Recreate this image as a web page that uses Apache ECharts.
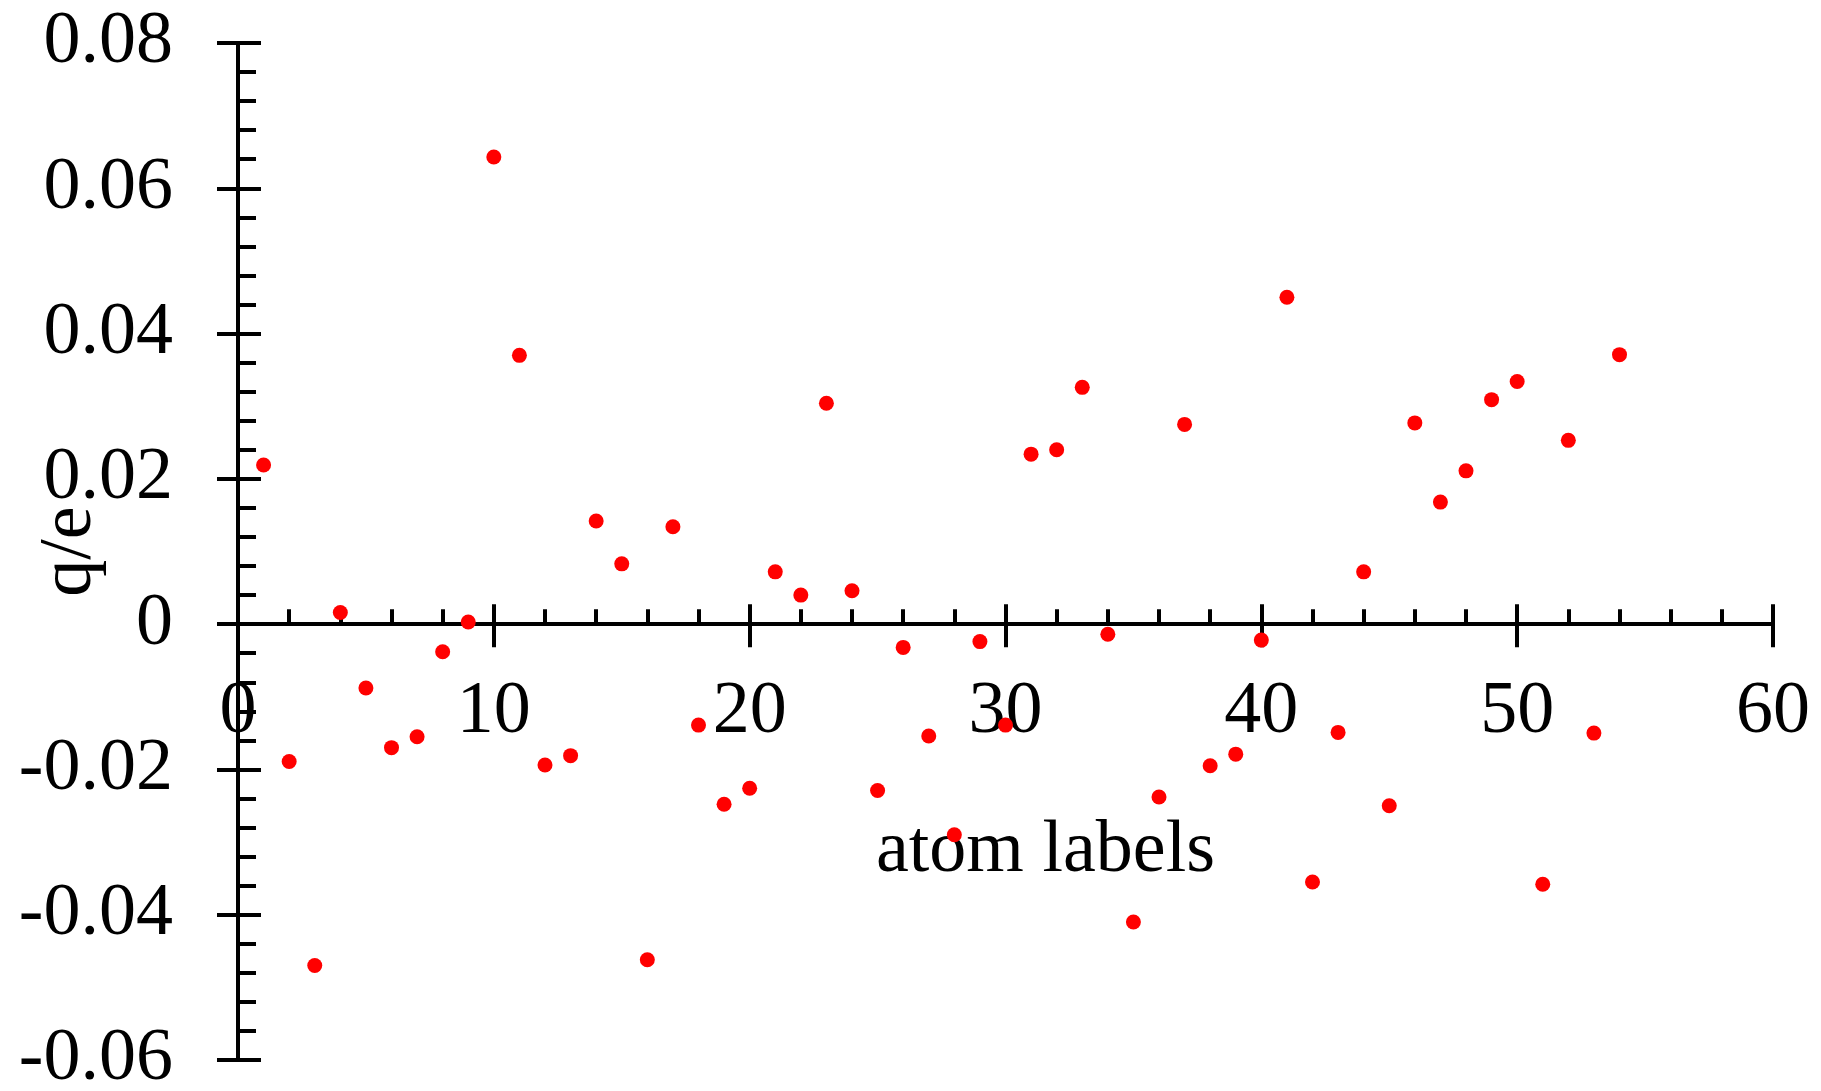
<!DOCTYPE html>
<html>
<head>
<meta charset="utf-8">
<title>q/e vs atom labels</title>
<script src="https://cdn.jsdelivr.net/npm/echarts@6/dist/echarts.min.js"></script>
<style>
  html, body { margin: 0; padding: 0; background: #fff; }
  #chart { width: 1821px; height: 1091px; }
</style>
</head>
<body>
<div id="chart"></div>
<script>
// atom index (x) and partial charge (y)
const atomLabels = [
  1, 2, 3, 4, 5, 6, 7, 8, 9, 10,
  11, 12, 13, 14, 15, 16, 17, 18, 19, 20,
  21, 22, 23, 24, 25, 26, 27, 28, 29, 30,
  31, 32, 33, 34, 35, 36, 37, 38, 39, 40,
  41, 42, 43, 44, 45, 46, 47, 48, 49, 50,
  51, 52, 53, 54
]
const charges = [
  0.0219, -0.0189, -0.0470, 0.0016, -0.0088, -0.0170, -0.0155, -0.0038, 0.0003, 0.0643,
  0.0370, -0.0194, -0.0181, 0.0142, 0.0083, -0.0462, 0.0134, -0.0139, -0.0248, -0.0226,
  0.0072, 0.0040, 0.0304, 0.0046, -0.0229, -0.0032, -0.0154, -0.0290, -0.0024, -0.0139,
  0.0234, 0.0240, 0.0326, -0.0014, -0.0410, -0.0238, 0.0275, -0.0195, -0.0179, -0.0022,
  0.0450, -0.0355, -0.0149, 0.0072, -0.0250, 0.0277, 0.0168, 0.0211, 0.0309, 0.0334,
  -0.0358, 0.0253, -0.0150, 0.0371
]

const font = 'Liberation Serif'
const fontSize = 74
const black = '#000'

const gridTop = 43
const gridBottom = 31
const yMin = -0.06
const yMax = 0.08

let chart = echarts.init(document.getElementById('chart'))

const points = atomLabels.map((a, i) => [a, charges[i]])

// v6 keeps labels of an onZero axis at the grid edge, so the label axis
// gets shifted up to the zero line by hand
const plotH = 1091 - gridTop - gridBottom
const zeroFromBottom = plotH * (0 - yMin) / (yMax - yMin)

const lineStyle = { color: black, width: 4 }

chart.setOption({
  animation: false,
  grid: {
    left: 238, right: 48, top: gridTop, bottom: gridBottom,
    containLabel: false,
    outerBoundsMode: 'none'
  },
  xAxis: [
    {
      // tick labels and axis name only
      type: 'value', position: 'bottom', min: 0, max: 60, interval: 10,
      offset: -zeroFromBottom,
      axisLine: { show: false, onZero: false },
      axisTick: { show: false },
      minorTick: { show: false },
      splitLine: { show: false },
      axisLabel: { color: black, fontFamily: font, fontSize, margin: 51 },
      name: 'atom labels',
      nameLocation: 'middle',
      nameGap: 190,
      nameMoveOverlap: false,
      nameTextStyle: { color: black, fontFamily: font, fontSize, padding: [0, 0, 0, 80] }
    },
    {
      // axis line + the part of the major ticks below it
      type: 'value', position: 'bottom', min: 0, max: 60, interval: 10,
      axisLine: { onZero: true, onZeroAxisIndex: 0, lineStyle },
      axisTick: { show: true, inside: false, length: 23, lineStyle },
      minorTick: { show: false },
      splitLine: { show: false },
      axisLabel: { show: false }
    },
    {
      // upper part of majors, minor ticks above only
      type: 'value', position: 'bottom', min: 0, max: 60, interval: 10,
      axisLine: { onZero: true, onZeroAxisIndex: 0, lineStyle },
      axisTick: { show: true, inside: true, length: 20, lineStyle },
      minorTick: { show: true, splitNumber: 5, length: 15, lineStyle },
      splitLine: { show: false },
      axisLabel: { show: false }
    }
  ],
  yAxis: [
    {
      type: 'value', position: 'left', min: yMin, max: yMax, interval: 0.02,
      axisLine: { show: true, lineStyle },
      axisTick: { show: true, inside: false, length: 21, lineStyle },
      minorTick: { show: false },
      splitLine: { show: false },
      axisLabel: { color: black, fontFamily: font, fontSize, margin: 65 },
      name: 'q/e',
      nameLocation: 'middle',
      nameRotate: 90,
      nameGap: 130,
      nameMoveOverlap: false,
      nameTextStyle: { color: black, fontFamily: font, fontSize }
    },
    {
      type: 'value', position: 'left', min: yMin, max: yMax, interval: 0.02,
      axisLine: { show: true, lineStyle },
      axisTick: { show: true, inside: true, length: 23, lineStyle },
      minorTick: { show: true, splitNumber: 5, length: 18, lineStyle },
      splitLine: { show: false },
      axisLabel: { show: false }
    }
  ],
  series: [
    {
      type: 'scatter',
      xAxisIndex: 1,
      yAxisIndex: 0,
      data: points,
      symbol: 'circle',
      symbolSize: 15,
      itemStyle: { color: '#ff0000', opacity: 1 }
    }
  ]
})
</script>
</body>
</html>
